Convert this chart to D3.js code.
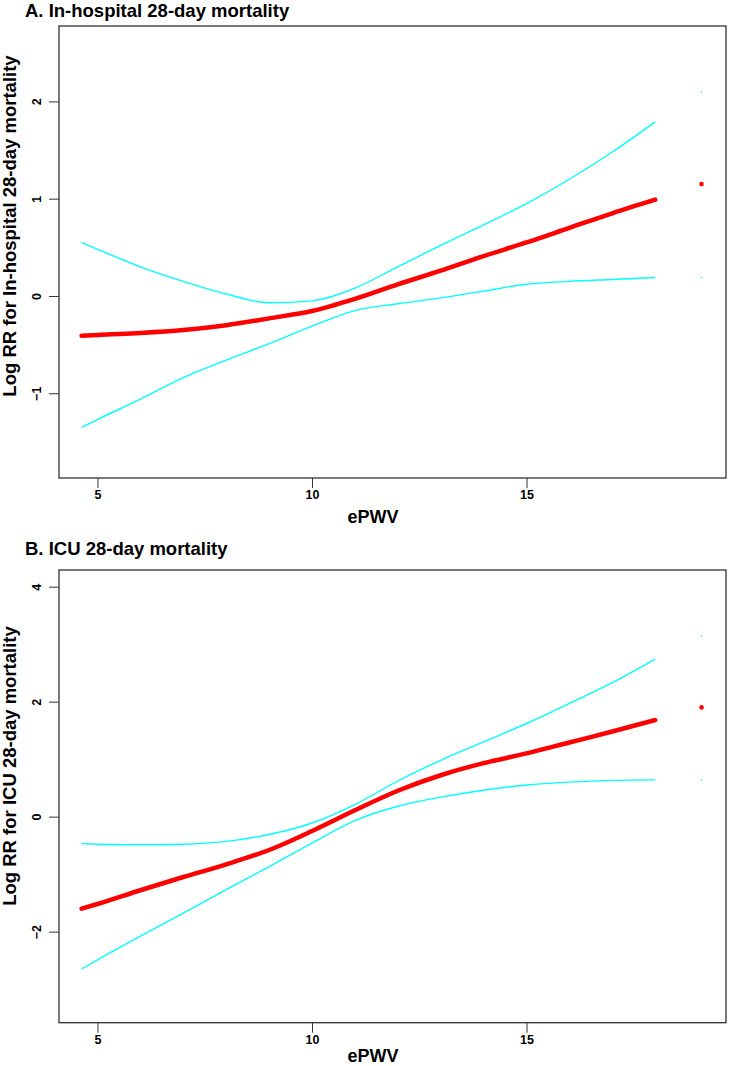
<!DOCTYPE html>
<html>
<head>
<meta charset="utf-8">
<script src="https://cdn.jsdelivr.net/npm/d3@7"></script>
<style>
  html, body { margin: 0; padding: 0; background: #fff; }
  svg { display: block; }
  text { font-family: "Liberation Sans", Arial, sans-serif; font-weight: bold; fill: #000; }
</style>
</head>
<body>
<svg id="chart" width="729" height="1066"></svg>
<script>
// ---------- data ----------
const xTicks = [5, 10, 15];
const ePWV = [4.63, 5, 6, 7, 8, 9, 10, 11, 12, 13, 14, 15, 16, 17, 18];
const outlierX = 19.08;

// Panel A: In-hospital 28-day mortality
const titleA = "A. In-hospital 28-day mortality";
const yLabelA = "Log RR for In-hospital 28-day mortality";
const yTicksA = [-1, 0, 1, 2];
const estA   = [-0.41, -0.40, -0.38, -0.35, -0.30, -0.23, -0.155, -0.03, 0.12, 0.26, 0.41, 0.55, 0.70, 0.85, 0.99];
const upperA = [0.55, 0.48, 0.30, 0.15, 0.02, -0.07, -0.05, 0.08, 0.30, 0.52, 0.73, 0.95, 1.20, 1.48, 1.79];
const lowerA = [-1.35, -1.27, -1.06, -0.84, -0.66, -0.49, -0.31, -0.15, -0.08, -0.02, 0.05, 0.12, 0.15, 0.17, 0.19];
const outlierA = { est: 1.15, upper: 2.10, lower: 0.19 };

// Panel B: ICU 28-day mortality
const titleB = "B. ICU 28-day mortality";
const yLabelB = "Log RR for ICU 28-day mortality";
const yTicksB = [-2, 0, 2, 4];
const estB   = [-1.60, -1.52, -1.28, -1.05, -0.83, -0.58, -0.25, 0.11, 0.45, 0.72, 0.93, 1.10, 1.29, 1.48, 1.68];
const upperB = [-0.47, -0.48, -0.49, -0.48, -0.43, -0.31, -0.11, 0.21, 0.62, 0.98, 1.30, 1.62, 1.97, 2.33, 2.74];
const lowerB = [-2.65, -2.49, -2.08, -1.68, -1.27, -0.87, -0.46, -0.07, 0.18, 0.34, 0.46, 0.55, 0.60, 0.63, 0.64];
const outlierB = { est: 1.90, upper: 3.14, lower: 0.64 };

const xLabel = "ePWV";

// ---------- drawing ----------
const svg = d3.select("#chart");

function panel(cfg) {
  const { top, bottom, left, right, yDomain, yTicks, est, upper, lower, outlier,
          title, titleY, yLabel, yLabelCenter, xLabelOffset } = cfg;
  const x = d3.scaleLinear().domain([4.103, 19.65]).range([left, right]);
  const y = d3.scaleLinear().domain(yDomain).range([bottom, top]);
  const g = svg.append("g");

  // title
  g.append("text").attr("x", 25).attr("y", titleY)
    .style("font-size", "18.5px").text(title);

  // box
  g.append("rect").attr("x", left).attr("y", top)
    .attr("width", right - left).attr("height", bottom - top)
    .attr("fill", "none").attr("stroke", "#333").attr("stroke-width", 1.3);

  // x axis
  const xa = g.append("g").attr("transform", `translate(0,${bottom})`)
    .call(d3.axisBottom(x).tickValues(xTicks).tickSize(10).tickSizeOuter(0).tickFormat(d3.format("d")));
  xa.select(".domain").remove();
  xa.selectAll(".tick line").attr("stroke", "#333");
  xa.selectAll(".tick text").attr("y", 0).attr("dy", "1.68em")
    .style("font-size", "12.5px").style("font-family", "'Liberation Sans', Arial, sans-serif")
    .style("font-weight", "bold").attr("fill", "#000");

  // y axis
  const ya = g.append("g").attr("transform", `translate(${left},0)`)
    .call(d3.axisLeft(y).tickValues(yTicks).tickSize(10).tickSizeOuter(0).tickFormat(d3.format("d")));
  ya.select(".domain").remove();
  ya.selectAll(".tick line").attr("stroke", "#333");
  ya.selectAll(".tick text")
    .attr("x", null).attr("dy", null)
    .attr("text-anchor", "middle")
    .attr("transform", "translate(-18,0) rotate(-90)")
    .style("font-size", "12.5px").style("font-family", "'Liberation Sans', Arial, sans-serif")
    .style("font-weight", "bold").attr("fill", "#000");

  // axis labels
  g.append("text").attr("x", 373).attr("y", bottom + xLabelOffset)
    .attr("text-anchor", "middle").style("font-size", "18px").text(xLabel);
  g.append("text").attr("transform", `translate(16,${yLabelCenter}) rotate(-90)`)
    .attr("text-anchor", "middle").style("font-size", "18.5px").text(yLabel);

  // curves
  const line = vals => d3.line()
    .x((d, i) => x(ePWV[i])).y(d => y(d))
    .curve(d3.curveMonotoneX)(vals);

  [upper, lower].forEach(vals => {
    g.append("path").attr("d", line(vals))
      .attr("fill", "none").attr("stroke", "#00FFFF").attr("stroke-width", 1.4);
  });
  g.append("path").attr("d", line(est))
    .attr("fill", "none").attr("stroke", "#FF0000").attr("stroke-width", 4.5)
    .attr("stroke-linecap", "round");

  // isolated observation beyond the main range
  g.append("circle").attr("cx", x(outlierX)).attr("cy", y(outlier.est)).attr("r", 2.3).attr("fill", "#FF0000");
  [outlier.upper, outlier.lower].forEach(v => {
    g.append("circle").attr("cx", x(outlierX)).attr("cy", y(v)).attr("r", 0.8).attr("fill", "#00FFFF");
  });
}

panel({
  top: 26, bottom: 478, left: 59, right: 726,
  yDomain: [-1.871, 2.775], yTicks: yTicksA,
  est: estA, upper: upperA, lower: lowerA, outlier: outlierA,
  title: titleA, titleY: 17, yLabel: yLabelA, yLabelCenter: 226, xLabelOffset: 44.5
});

panel({
  top: 570, bottom: 1022.7, left: 59, right: 726,
  yDomain: [-3.584, 4.29], yTicks: yTicksB,
  est: estB, upper: upperB, lower: lowerB, outlier: outlierB,
  title: titleB, titleY: 554.5, yLabel: yLabelB, yLabelCenter: 766, xLabelOffset: 39.5
});
</script>
</body>
</html>
